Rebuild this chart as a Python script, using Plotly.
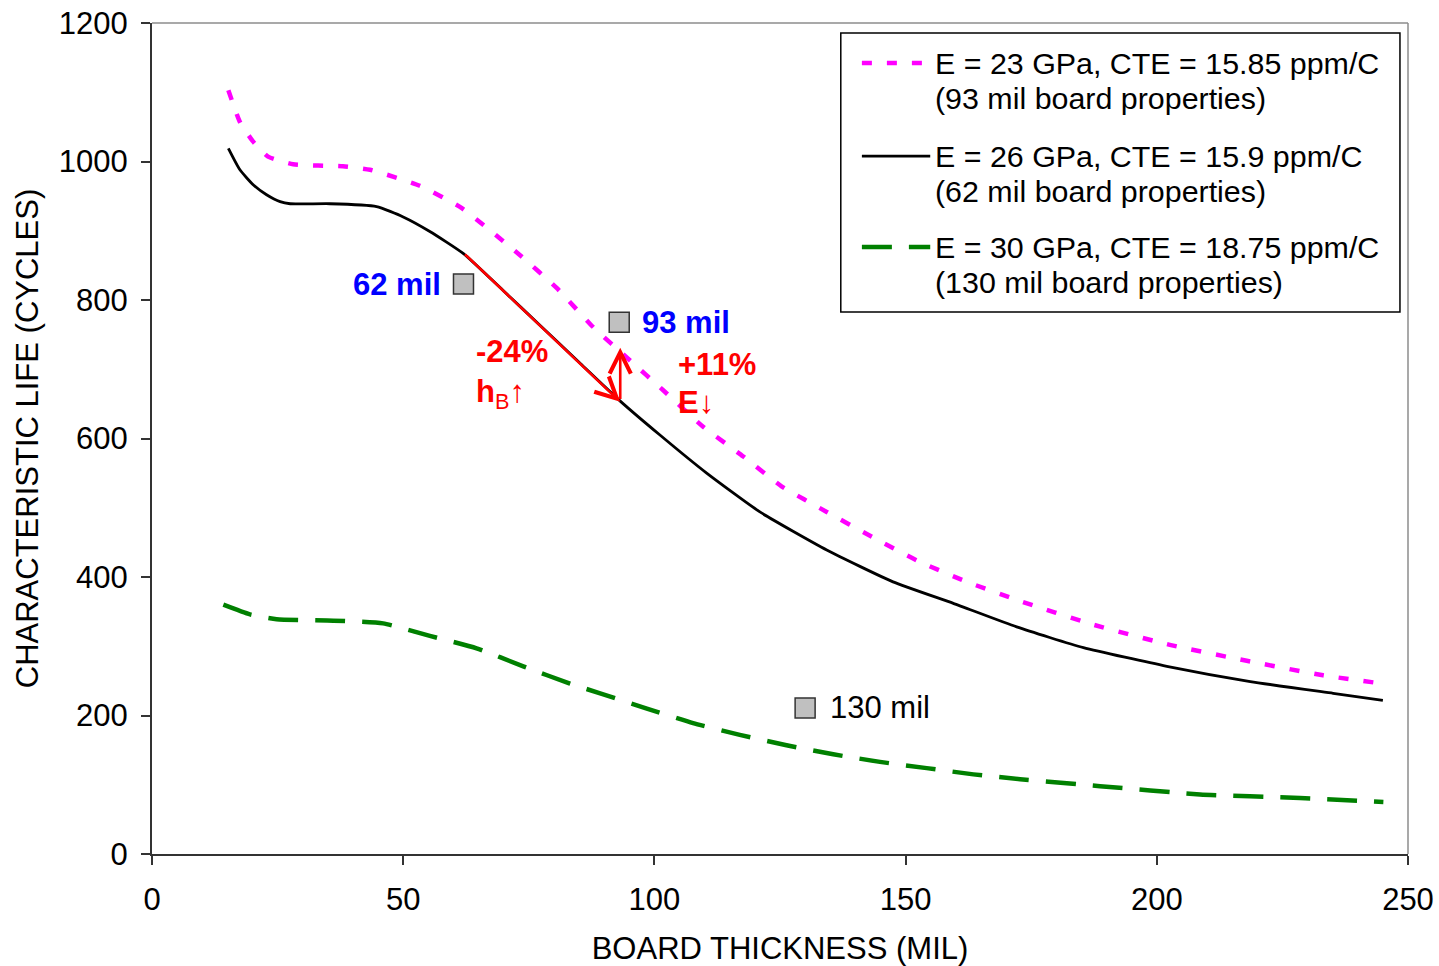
import plotly.graph_objects as go

FONT = "Arial, 'Liberation Sans', sans-serif"
FS = 31
FS_LEG = 30.4

# ---- data ----
x_mag = [15.2, 17.5, 20.1, 23.1, 28.1, 38.0, 43.4, 53.3, 61.6, 73.2, 80.6, 87.8, 95.1, 101.7,
         109.7, 117.7, 125.3, 134.3, 143.3, 152.5, 162.2, 172.1, 187.4, 202.6, 217.9, 233.1, 245.0]
y_mag = [1103, 1057, 1029, 1007, 996, 993, 988, 965, 933, 865, 817, 761, 713, 670,
         617, 574, 531, 494, 458, 423, 393, 367, 331, 302, 279, 258, 246]

x_blk = [15.2, 17.5, 20.2, 22.8, 25.5, 27.5, 35.4, 44.7, 50.0, 55.3, 62.0, 70.0, 77.0, 85.0, 93.2, 101.1,
         110.4, 121.0, 134.3, 147.5, 159.5, 172.1, 185.4, 202.0, 218.6, 235.1, 245.0]
y_blk = [1019, 988, 966, 952, 942, 939, 939, 935, 920, 899, 867, 813, 765, 710, 654, 605,
         550, 494, 439, 393, 362, 328, 298, 271, 249, 232, 222]

x_grn = [14.2, 19.5, 24.8, 36.1, 46.0, 55.3, 64.6, 73.9, 83.2, 89.2, 98.5, 107.7, 117.0, 126.3,
         135.6, 144.9, 154.2, 163.5, 172.8, 188.7, 208.6, 228.5, 245.1]
y_grn = [360, 346, 339, 337, 333, 315, 297, 271, 246, 232, 210, 189, 172, 157,
         144, 133, 124, 115, 108, 98, 86, 81, 75]

series_names = ["E = 23 GPa, CTE = 15.85 ppm/C", "E = 26 GPa, CTE = 15.9 ppm/C", "E = 30 GPa, CTE = 18.75 ppm/C"]
series_notes = ["(93 mil board properties)", "(62 mil board properties)", "(130 mil board properties)"]

board_x = [62, 93, 130]
board_y = [823, 768, 211]
board_labels = ["62 mil", "93 mil", "130 mil"]

x_ticks = [0, 50, 100, 150, 200, 250]
y_ticks = [0, 200, 400, 600, 800, 1000, 1200]

# arrows: 62 mil -> 93 mil along the black curve, then E change at 93 mil
arrow_thick = dict(x0=62.0, y0=868, x1=93.2, y1=653)
arrow_E = dict(x=93.2, y0=655, y1=731)

fig = go.Figure()

styles = [
    dict(color="#ff00ff", width=4.5, dash="10px,15px"),
    dict(color="#000000", width=2.8, dash="solid"),
    dict(color="#008000", width=4.5, dash="30px,17px"),
]
for xs, ys, st in zip([x_mag, x_blk, x_grn], [y_mag, y_blk, y_grn], styles):
    fig.add_trace(go.Scatter(x=xs, y=ys, mode="lines", showlegend=False,
                             line=dict(color=st["color"], width=st["width"], dash=st["dash"],
                                       shape="spline", smoothing=0.5)))

fig.add_trace(go.Scatter(x=board_x, y=board_y, mode="markers", showlegend=False,
                         marker=dict(symbol="square", size=20, color="#c0c0c0",
                                     line=dict(color="#333333", width=1.5))))

annotations = []
# red arrows
annotations.append(dict(x=arrow_thick["x1"], y=arrow_thick["y1"], ax=arrow_thick["x0"], ay=arrow_thick["y0"],
                        xref="x", yref="y", axref="x", ayref="y", text="", showarrow=True,
                        arrowhead=5, arrowsize=1.6, arrowwidth=2.6, arrowcolor="#ff0000"))
annotations.append(dict(x=arrow_E["x"], y=arrow_E["y1"], ax=arrow_E["x"], ay=arrow_E["y0"],
                        xref="x", yref="y", axref="x", ayref="y", text="", showarrow=True,
                        arrowhead=5, arrowsize=1.6, arrowwidth=2.6, arrowcolor="#ff0000"))

red = "#ff0000"
annotations += [
    dict(x=71.7, y=725, text="<b>-24%</b>", showarrow=False, font=dict(size=FS, color=red, family=FONT)),
    dict(x=69.3, y=664, text="<b>h</b><sub>B</sub>↑", showarrow=False, font=dict(size=FS, color=red, family=FONT)),
    dict(x=112.5, y=707, text="<b>+11%</b>", showarrow=False, font=dict(size=FS, color=red, family=FONT)),
    dict(x=108.3, y=652, text="<b>E</b>↓", showarrow=False, font=dict(size=FS, color=red, family=FONT)),
]
# board labels
blue = "#0000ff"
annotations += [
    dict(x=board_x[0] - 4.0, y=board_y[0], text="<b>" + board_labels[0] + "</b>", xanchor="right",
         showarrow=False, font=dict(size=FS, color=blue, family=FONT)),
    dict(x=board_x[1] + 4.1, y=board_y[1], text="<b>" + board_labels[1] + "</b>", xanchor="left",
         showarrow=False, font=dict(size=FS, color=blue, family=FONT)),
    dict(x=board_x[2] + 4.6, y=board_y[2], text=board_labels[2], xanchor="left",
         showarrow=False, font=dict(size=FS, color="#000000", family=FONT)),
]

# manual legend
leg_x0, leg_x1, leg_y0, leg_y1 = 137.1, 248.4, 782.7, 1185.6
shapes = [
    dict(type="rect", xref="x", yref="y", x0=leg_x0, x1=leg_x1, y0=leg_y0, y1=leg_y1,
         line=dict(color="#000000", width=1.5), fillcolor="white", layer="below"),
    # top and right frame
    dict(type="line", xref="paper", yref="paper", x0=0, x1=1, y0=1, y1=1, line=dict(color="#8c8c8c", width=1.5)),
    dict(type="line", xref="paper", yref="paper", x0=1, x1=1, y0=0, y1=1, line=dict(color="#8c8c8c", width=1.5)),
]
leg_line_y = [1142.2, 1007.9, 876.5]
leg_note_y = [1091.7, 957.4, 826.0]
for st, ly, ny, name, note in zip(styles, leg_line_y, leg_note_y, series_names, series_notes):
    shapes.append(dict(type="line", xref="x", yref="y", x0=141.3, x1=154.9, y0=ly, y1=ly,
                       line=dict(color=st["color"], width=st["width"], dash=st["dash"])))
    annotations.append(dict(x=155.5, y=ly, text=name, xanchor="left", showarrow=False,
                            font=dict(size=FS_LEG, color="#000000", family=FONT)))
    annotations.append(dict(x=155.5, y=ny, text=note, xanchor="left", showarrow=False,
                            font=dict(size=FS_LEG, color="#000000", family=FONT)))

fig.update_layout(
    width=1439, height=966,
    margin=dict(l=152, r=31, t=23, b=112, autoexpand=False),
    paper_bgcolor="white", plot_bgcolor="white",
    font=dict(family=FONT, size=FS, color="#000000"),
    showlegend=False,
    annotations=annotations,
    shapes=shapes,
)
fig.update_xaxes(
    range=[0, 250], tickvals=x_ticks, ticktext=[str(v) for v in x_ticks],
    showgrid=False, zeroline=False, showline=True, linecolor="#333333", linewidth=2,
    ticks="outside", ticklen=9, tickwidth=2, tickcolor="#333333",
    tickfont=dict(size=FS, family=FONT, color="#000000"), ticklabelstandoff=8,
    title=dict(text="BOARD THICKNESS (MIL)", font=dict(size=FS, family=FONT), standoff=25),
)
fig.update_yaxes(
    range=[0, 1200], tickvals=y_ticks, ticktext=[str(v) for v in y_ticks],
    showgrid=False, zeroline=False, showline=True, linecolor="#333333", linewidth=2,
    ticks="outside", ticklen=9, tickwidth=2, tickcolor="#333333",
    tickfont=dict(size=FS, family=FONT, color="#000000"), ticklabelstandoff=7,
    title=dict(text="CHARACTERISTIC LIFE (CYCLES)", font=dict(size=FS, family=FONT), standoff=11),
)

fig.write_html("out.html", config={"displayModeBar": False},
               post_script="document.body.style.margin='0px';document.body.style.overflow='hidden';")
